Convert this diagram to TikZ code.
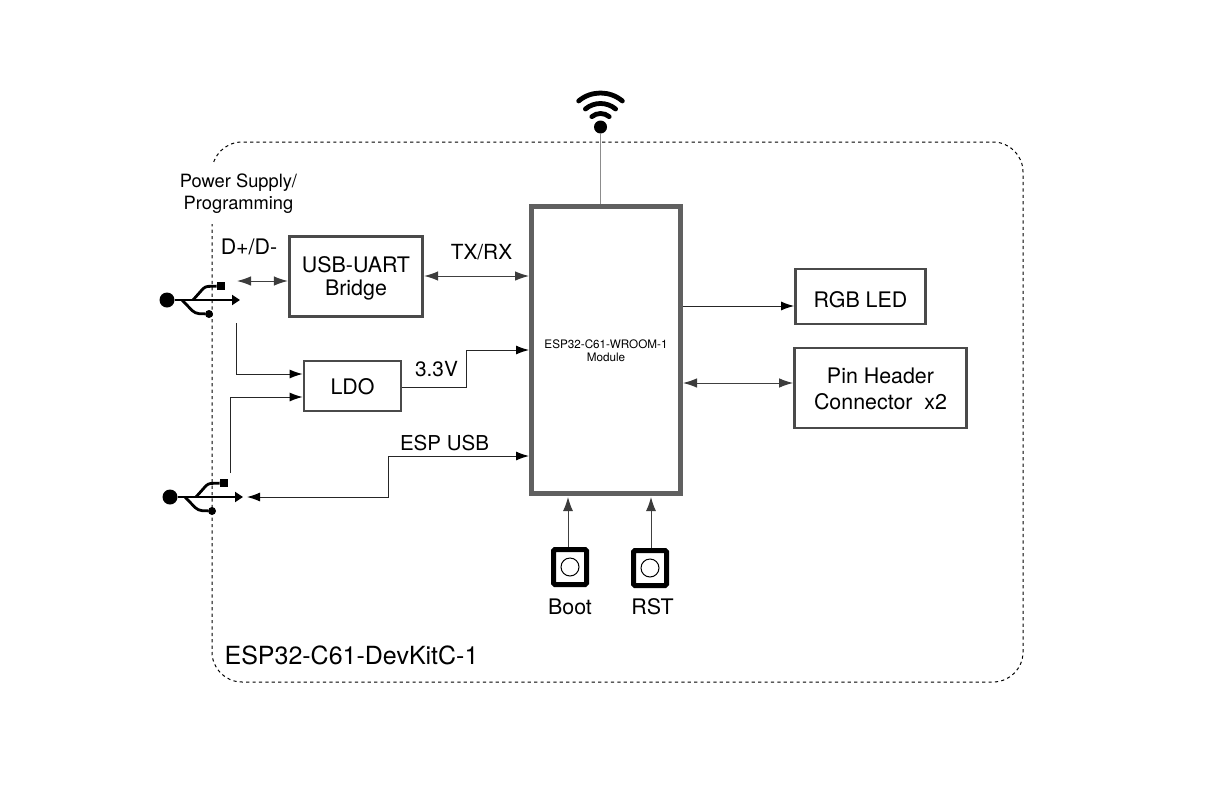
\documentclass[tikz,border=0pt]{standalone}
\usepackage{fontspec}
\setmainfont{TeX Gyre Heros}
\usetikzlibrary{arrows.meta}
\newcommand{\fs}[1]{\fontsize{#1}{#1}\selectfont}
\newcommand{\dn}[1]{\rule{0pt}{#1pt}}
\tikzset{
  blockbox/.style={draw=boxgrey,line width=2.8pt,inner sep=0pt,align=center,text=black,font=\fs{21.4}},
  lbl/.style={inner sep=0pt,align=center,text=black},
  conn/.style={line width=1pt,draw=black!85,-{Latex[length=13pt,width=9pt,color=black]}},
  bidir/.style={line width=1pt,draw=black!75,{Latex[length=14pt,width=9.5pt,color=darkgrey]}-{Latex[length=14pt,width=9.5pt,color=darkgrey]}},
  upconn/.style={line width=1pt,draw=black!75,-{Latex[length=14pt,width=10pt,color=darkgrey]}},
  pushbox/.style={draw=black,line width=5pt,rounded corners=1.5pt,minimum width=33pt,minimum height=35pt,inner sep=0pt},
  pushcirc/.style={draw=black,line width=1pt,circle,minimum size=18pt,inner sep=0pt},
  usbline/.style={line width=2.8pt,draw=black},
}
\definecolor{boxgrey}{HTML}{4A4A4A}
\definecolor{darkgrey}{HTML}{3C3C3C}
\definecolor{modgrey}{HTML}{606060}
\begin{document}
\begin{tikzpicture}[x=1pt,y=-1pt]
\useasboundingbox (0,0) rectangle (1209,806);
% board outline
\draw[line width=1pt,dash pattern=on 3.2pt off 3.2pt,rounded corners=30pt] (212,142) rectangle (1023,682);
\node[lbl,fill=white,font=\fs{18.3},minimum width=125pt,minimum height=60pt] (power) at (238.5,193.5) {Power Supply/\\[3.5pt]Programming};
\node[lbl,font=\fs{21.4}] (dpm) at (249,247) {D+/D-};
% blocks
\node[blockbox,minimum width=133.5pt,minimum height=80.5pt] (bridge) at (356,276.5) {\dn{20.5}USB-UART\\[1.6pt]Bridge};
\node[blockbox,minimum width=97pt,minimum height=50pt] (ldo) at (352.5,386) {\dn{17.5}LDO};
\node[draw=modgrey,line width=5pt,minimum width=149pt,minimum height=287pt,inner sep=0pt,align=center,font=\fs{11.7}] (module) at (606,350) {\dn{11}ESP32-C61-WROOM-1\\[1.3pt]Module};
\node[blockbox,minimum width=130pt,minimum height=55pt] (rgb) at (860.5,296.5) {\dn{21.5}RGB LED};
\node[blockbox,minimum width=172pt,minimum height=80pt] (pin) at (880.5,388) {\dn{17}Pin Header\\[4.5pt]Connector~~x2};
% labels
\node[lbl,font=\fs{20.8}] (txrx) at (481.5,252) {TX/RX};
\node[lbl,font=\fs{20.8}] (v33) at (436.5,369) {3.3V};
\node[lbl,font=\fs{20.5}] (espusb) at (444.5,443) {ESP USB};
\node[lbl,font=\fs{25}] (devkit) at (351.5,655) {ESP32-C61-DevKitC-1};
% buttons
\node[pushbox] (boot) at (570,567) {};
\node[pushcirc] (bootc) at (570,567) {};
\node[pushbox] (rst) at (650,568) {};
\node[pushcirc] (rstc) at (650,568) {};
\node[lbl,font=\fs{21.4}] (bootl) at (570,607) {Boot};
\node[lbl,font=\fs{21.4}] (rstl) at (652.5,607) {RST};
% wifi
\node[circle,fill=black,minimum size=13pt,inner sep=0pt] (wifi) at (600.5,127) {};
\foreach \r in {13.5,23.5,34}{
  \draw[line width=4.8pt,line cap=round] (wifi.center) ++(50:\r pt) arc[start angle=50,end angle=130,radius=\r pt];
}
\draw[line width=1pt,draw=black!45] (wifi) -- (wifi |- module.north);
% USB symbols
\foreach \nm/\dx/\dy in {a/0/0,b/3/197}{
  \begin{scope}[shift={(\dx,\dy)}]
    \node[circle,fill=black,minimum size=15pt,inner sep=0pt] (ball\nm) at (167,300) {};
    \node[fill=black,minimum size=8.5pt,inner sep=0pt] (sq\nm) at (221,286) {};
    \node[circle,fill=black,minimum size=8pt,inner sep=0pt] (dot\nm) at (209,314) {};
    \coordinate (tip\nm) at (240,300);
    \draw[usbline,-{Triangle[length=8pt,width=10pt]}] (ball\nm) -- (tip\nm);
    \draw[usbline,rounded corners=3pt] (193,300) -- (205,286.5) -- (sq\nm);
    \draw[usbline,rounded corners=4pt] (182,300) -- (195,313.5) -- (dot\nm);
  \end{scope}
}
% levels and free ends
\coordinate (ya) at (0,281);
\coordinate (yb) at (0,276);
\coordinate (yc) at (0,350);
\coordinate (yd) at (0,456);
\coordinate (ye) at (0,306);
\coordinate (yf) at (0,383);
\coordinate (yg) at (0,374);
\coordinate (yh) at (0,397);
\coordinate (usbaEnd) at (237,281);
\coordinate (usbaPwr) at (236.5,323);
\coordinate (usbbPwr) at (230.5,473);
\coordinate (usbbEnd) at (247,497);
\coordinate (ldoOut) at (ldo.east |- 0,387);
% connectors
\draw[bidir] (usbaEnd) -- (bridge.west |- ya);
\draw[bidir] (bridge.east |- yb) -- (module.west |- yb);
\draw[conn] (usbaPwr) |- (ldo.west |- yg);
\draw[conn] (usbbPwr) |- (ldo.west |- yh);
\draw[conn] (ldoOut) -- (466,387) -- (466,350) -- (module.west |- yc);
\draw[conn,{Latex[length=13pt,width=9pt,color=black]}-{Latex[length=13pt,width=9pt,color=black]}] (usbbEnd) -- (388,497) -- (388,456) -- (module.west |- yd);
\draw[conn] (module.east |- ye) -- (rgb.west |- ye);
\draw[bidir] (module.east |- yf) -- (pin.west |- yf);
\draw[upconn] (boot.north -| 568,0) -- (568,497);
\draw[upconn] (rst.north -| 651,0) -- (651,497);
\end{tikzpicture}
\end{document}
